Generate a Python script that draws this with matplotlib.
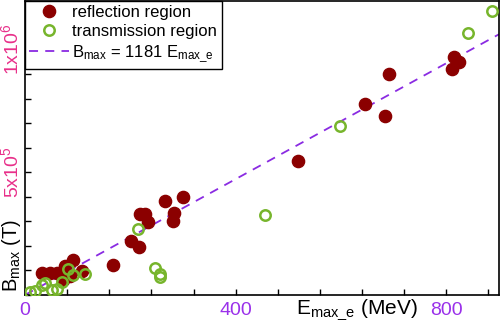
import matplotlib
matplotlib.use("Agg")
import matplotlib.pyplot as plt
import numpy as np
from matplotlib.ticker import MultipleLocator, FixedLocator

plt.rcParams['font.family'] = ['Liberation Sans', 'DejaVu Sans']
plt.rcParams['mathtext.fontset'] = 'custom'
plt.rcParams['mathtext.rm'] = 'Liberation Sans'
plt.rcParams['mathtext.it'] = 'Liberation Sans'

# reflection region (filled)
refl_E = [519, 646, 691, 684, 815, 824, 810, 266, 300, 219, 227, 233, 283, 281,
          202, 217, 168, 32, 48, 61, 76, 91, 72, 108, 86]
refl_B = [546e3, 779e3, 900e3, 728e3, 969e3, 951e3, 922e3, 383e3, 401e3, 332e3,
          329e3, 296e3, 335e3, 302e3, 220e3, 196e3, 122e3, 89e3, 89e3, 89e3,
          118e3, 142e3, 61e3, 98e3, 77e3]
# transmission region (open)
trans_E = [599, 455, 841, 886, 214, 246, 256, 257, 82, 91, 70, 33, 51, 61, 10, 19, 38, 114]
trans_B = [687e3, 325e3, 1068e3, 1159e3, 268e3, 110e3, 72e3, 85e3, 106e3, 81e3,
           53e3, 41e3, 20e3, 24e3, 12e3, 16e3, 49e3, 85e3]
fit_slope = 1181
fit_E = [0, 900]

fig = plt.figure(figsize=(5, 3.22), dpi=100)
ax = fig.add_axes([0.05, 0.084, 0.948, 0.914])

ax.plot(refl_E, refl_B, 'o', color='#8b0000', markersize=8.8, linestyle='none',
        label='reflection region', zorder=3)
ax.plot(trans_E, trans_B, 'o', markerfacecolor='none', markeredgecolor='#77b52c',
        markeredgewidth=1.8, markersize=7.5, linestyle='none',
        label='transmission region', zorder=4)
ax.plot(fit_E, [fit_slope * e for e in fit_E], '--', color='#8a2be2', lw=1.3,
        dashes=(5, 4), label=r'B$_{\rm max}$ = 1181 E$_{\rm max\_e}$', zorder=2)

ax.set_xlim(0, 900)
ax.set_ylim(0, 1.2e6)

ax.xaxis.set_major_locator(FixedLocator([0, 400, 800]))
ax.xaxis.set_minor_locator(MultipleLocator(80))
ax.yaxis.set_major_locator(FixedLocator([5e5, 1e6]))
ax.yaxis.set_minor_locator(MultipleLocator(1e5))
ax.set_xticklabels(['0', '400', '800'])
ax.set_yticklabels([r'5x10$^5$', r'1x10$^6$'], rotation=90, va='center')
ax.tick_params(axis='both', which='both', direction='in', length=4, width=1,
               top=False, right=False, labelsize=14)
ax.tick_params(axis='x', labelcolor='#9a30ea', pad=5)
ax.tick_params(axis='y', labelcolor='#e8308a', pad=2)
for s in ax.spines.values():
    s.set_linewidth(1.2)

ax.text(-0.029, 0.01, r'B$_{\rm max}$ (T)', transform=ax.transAxes, rotation=90,
        ha='center', va='bottom', fontsize=14.5)
ax.text(0.70, -0.05, r'E$_{\rm max\_e}$ (MeV)', transform=ax.transAxes,
        ha='center', va='center', fontsize=15)

leg = ax.legend(loc='upper left', fontsize=12, frameon=True, fancybox=False,
                edgecolor='black', framealpha=1, borderaxespad=0,
                handlelength=2.4, handletextpad=0.2, borderpad=0.25, labelspacing=0.25)
leg.get_frame().set_linewidth(1.0)

fig.savefig('out.png', dpi=100)
